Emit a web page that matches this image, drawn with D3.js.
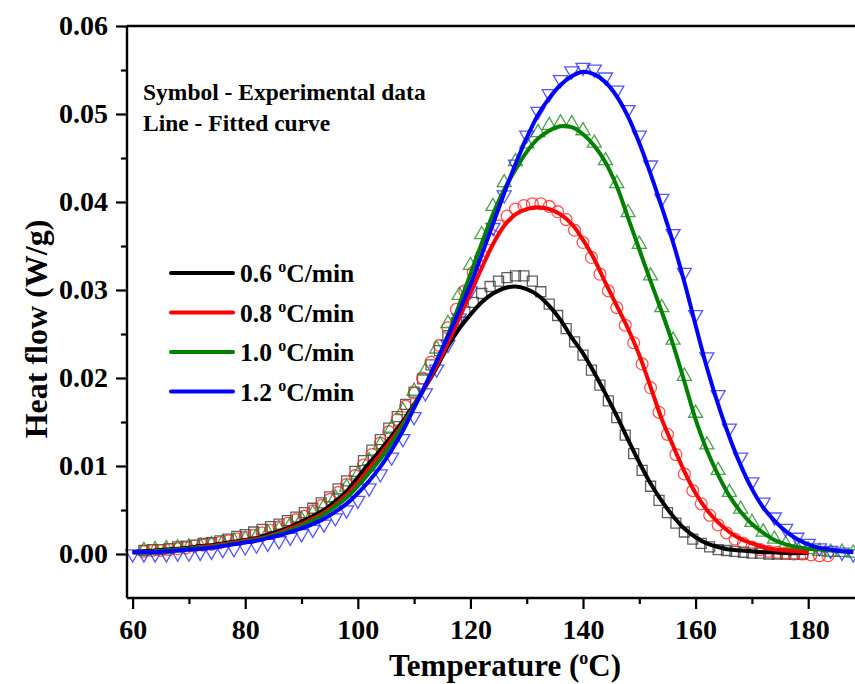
<!DOCTYPE html>
<html>
<head>
<meta charset="utf-8">
<script src="https://cdn.jsdelivr.net/npm/d3@7"></script>
<style>
  body { margin: 0; background: #fff; }
  svg { display: block; font-family: "Liberation Serif", "Times New Roman", serif; font-weight: bold; }
</style>
</head>
<body>
<div id="chart"></div>
<script>
// temperature grid (°C) for the fitted curves and the 1.0 / 1.2 points
const temps = [60, 62, 64, 66, 68, 70, 72, 74, 76, 78, 80, 82, 84, 86, 88, 90, 92, 94, 96, 98,
  100, 102, 104, 106, 108, 110, 112, 114, 116, 118, 120, 122, 124, 126, 128, 130, 132, 134, 136, 138,
  140, 142, 144, 146, 148, 150, 152, 154, 156, 158, 160, 162, 164, 166, 168, 170, 172, 174, 176, 178,
  180, 182, 184, 186, 188];

// fitted curves (W/g)
const fit06 = [.0002, .0003, .0004, .0005, .0006, .0007, .0009, .0010, .0012, .0014,
  .0016, .0018, .0022, .0026, .0031, .0037, .0043, .0050, .0060, .0071,
  .0087, .0103, .0118, .0134, .0151, .0170, .0190, .0212, .0236, .0256,
  .0272, .0286, .0296, .0302, .0304, .0301, .0294, .0282, .0266, .0246,
  .0228, .0206, .0182, .0157, .0130, .0104, .0080, .0060, .0043, .0029,
  .0019, .0012, .0008, .0005, .0004, .0003, .0002, .0002, .0001, .0001,
  .0001, null, null, null, null];
const fit08 = [.0002, .0002, .0003, .0004, .0005, .0006, .0008, .0009, .0011, .0013,
  .0015, .0017, .0020, .0024, .0029, .0034, .0040, .0047, .0056, .0067,
  .0081, .0097, .0113, .0130, .0148, .0168, .0190, .0214, .0240, .0268,
  .0296, .0325, .0352, .0373, .0386, .0392, .0394, .0392, .0386, .0375,
  .0357, .0335, .0308, .0282, .0256, .0226, .0190, .0153, .0123, .0094,
  .0069, .0050, .0036, .0025, .0017, .0012, .0008, .0005, .0004, .0003,
  .0002, null, null, null, null];
const fit10 = [.0002, .0002, .0003, .0004, .0005, .0006, .0007, .0008, .0010, .0012,
  .0014, .0016, .0019, .0023, .0027, .0032, .0038, .0045, .0054, .0064,
  .0077, .0092, .0108, .0126, .0146, .0168, .0192, .0219, .0249, .0283,
  .0318, .0353, .0386, .0414, .0437, .0457, .0472, .0481, .0486, .0485,
  .0477, .0464, .0445, .0418, .0382, .0346, .0310, .0275, .0238, .0196,
  .0153, .0118, .0090, .0066, .0048, .0034, .0024, .0016, .0011, .0008,
  .0006, .0005, .0004, .0003, .0003];
const fit12 = [.0002, .0002, .0002, .0003, .0004, .0005, .0006, .0007, .0009, .0011,
  .0013, .0015, .0018, .0021, .0025, .0029, .0034, .0040, .0048, .0057,
  .0069, .0083, .0099, .0118, .0140, .0166, .0192, .0219, .0247, .0276,
  .0306, .0340, .0375, .0410, .0443, .0473, .0499, .0518, .0533, .0543,
  .0548, .0545, .0536, .0520, .0497, .0467, .0432, .0394, .0354, .0309,
  .0260, .0212, .0170, .0133, .0101, .0074, .0053, .0038, .0026, .0017,
  .0011, .0007, .0005, .0003, .0002];

// experimental points, 0.6 and 0.8 °C/min: [T, W/g]
const exp06 = [[62, .0004], [63.5, .0005], [65, .0005], [66.5, .0006], [68, .0008], [69.5, .0009],
  [71, .0010], [72.5, .0012], [74, .0013], [75.5, .0015], [77, .0017], [78.5, .0020], [80, .0022],
  [81.5, .0025], [83, .0028], [84.5, .0031], [86, .0034], [87.5, .0038], [89, .0042], [90.5, .0047],
  [92, .0052], [93.5, .0058], [95, .0065], [96.5, .0074], [98, .0083], [99.5, .0094], [101, .0106],
  [102.5, .0118], [104, .0130], [105.5, .0143], [107, .0156], [108.5, .0170], [110, .0184],
  [111.5, .0199], [113, .0215], [114.5, .0231], [116, .0248], [117.5, .0263], [119, .0275],
  [120.5, .0286], [122, .0296], [123.5, .0304], [125, .0310], [126.5, .0314], [128, .0316],
  [129.5, .0316], [131, .0310], [132.5, .0298], [134, .0284], [135.5, .0271], [137, .0256],
  [138.5, .0241], [140, .0226], [141.5, .0209], [143, .0192], [144.5, .0174], [146, .0155],
  [147.5, .0135], [149, .0114], [150.5, .0095], [152, .0077], [153.5, .0061], [155, .0047],
  [156.5, .0035], [158, .0025], [159.5, .0017], [161, .0012], [162.5, .0008], [164, .0005],
  [165.5, .0004], [167, .0003], [168.5, .0002], [170, .0001], [171.5, .0001], [173, 0],
  [174.5, 0], [176, 0], [177.5, 0], [179, 0]];
const exp08 = [[62, .0003], [63.5, .0004], [65, .0004], [66.5, .0005], [68, .0006], [69.5, .0007],
  [71, .0009], [72.5, .0010], [74, .0011], [75.5, .0013], [77, .0015], [78.5, .0017], [80, .0019],
  [81.5, .0021], [83, .0024], [84.5, .0027], [86, .0031], [87.5, .0035], [89, .0039], [90.5, .0043],
  [92, .0049], [93.5, .0055], [95, .0062], [96.5, .0070], [98, .0079], [99.5, .0089], [101, .0101],
  [102.5, .0113], [104, .0126], [105.5, .0139], [107, .0153], [108.5, .0168], [110, .0183],
  [111.5, .0200], [113, .0218], [114.5, .0237], [116, .0257], [117.5, .0278], [119, .0299],
  [120.5, .0320], [122, .0340], [123.5, .0358], [125, .0373], [126.5, .0384], [128, .0392],
  [129.5, .0396], [131, .0398], [132.5, .0398], [134, .0395], [135.5, .0389], [137, .0380],
  [138.5, .0368], [140, .0354], [141.5, .0337], [143, .0318], [144.5, .0299], [146, .0280],
  [147.5, .0260], [149, .0240], [150.5, .0216], [152, .0189], [153.5, .0161], [155, .0136],
  [156.5, .0113], [158, .0091], [159.5, .0072], [161, .0057], [162.5, .0044], [164, .0033],
  [165.5, .0024], [167, .0017], [168.5, .0012], [170, .0008], [171.5, .0005], [173, .0003],
  [174.5, .0002], [176, .0001], [177.5, 0], [179, 0], [180.5, -.0001], [182, -.0002], [183.5, -.0002]];

// experimental points, 1.0 and 1.2 °C/min, on the temps grid
const exp10 = [null, .0004, .0005, .0006, .0007, .0008, .0009, .0011, .0013, .0015,
  .0017, .0020, .0024, .0028, .0033, .0039, .0046, .0054, .0064, .0076,
  .0090, .0106, .0124, .0143, .0163, .0185, .0208, .0233, .0262, .0294,
  .0328, .0363, .0395, .0422, .0446, .0466, .0479, .0487, .0490, .0489,
  .0481, .0467, .0447, .0421, .0388, .0352, .0316, .0280, .0243, .0202,
  .0160, .0124, .0095, .0070, .0051, .0036, .0025, .0017, .0011, .0007,
  .0005, .0003, .0002, .0002, .0001];
const exp12 = [0, 0, 0, 0, .0001, .0001, .0002, .0003, .0005, .0006,
  .0008, .0010, .0012, .0015, .0019, .0023, .0028, .0034, .0041, .0050,
  .0061, .0075, .0091, .0110, .0131, .0156, .0183, .0210, .0238, .0268,
  .0299, .0334, .0371, .0408, .0443, .0476, .0503, .0523, .0539, .0549,
  .0553, .0551, .0542, .0527, .0505, .0476, .0442, .0404, .0364, .0320,
  .0272, .0224, .0181, .0143, .0110, .0082, .0059, .0042, .0029, .0019,
  .0012, .0007, .0004, .0002, 0];

const rates = ["0.6", "0.8", "1.0", "1.2"];
const xTicks = [60, 80, 100, 120, 140, 160, 180];
const yTicks = [0, 0.01, 0.02, 0.03, 0.04, 0.05, 0.06];

const onGrid = arr => temps.map((t, i) => [t, arr[i]]);

const series = [
  { rate: rates[0], fit: fit06, exp: exp06, color: "#000000", mark: "#3a3a3a", symbol: d3.symbolSquare, size: 100, rot: 0 },
  { rate: rates[1], fit: fit08, exp: exp08, color: "#ff0000", mark: "#ff2a2a", symbol: d3.symbolCircle, size: 110, rot: 0 },
  { rate: rates[2], fit: fit10, exp: onGrid(exp10), color: "#008000", mark: "#1f8a1f", symbol: d3.symbolTriangle, size: 85, rot: 0 },
  { rate: rates[3], fit: fit12, exp: onGrid(exp12), color: "#0000ff", mark: "#2a2aff", symbol: d3.symbolTriangle, size: 85, rot: 180 }
];

const width = 855, height = 684;
const svg = d3.select("#chart").append("svg")
  .attr("width", width)
  .attr("height", height);

const x = d3.scaleLinear().domain([59, 190]).range([127, 864.5]);
const y = d3.scaleLinear().domain([-0.005, 0.06]).range([598, 26]);

// markers first, lines on top
series.forEach(s => {
  const pts = s.exp.filter(d => d[1] != null);
  svg.append("g")
    .selectAll("path")
    .data(pts)
    .enter().append("path")
    .attr("d", d3.symbol().type(s.symbol).size(s.size))
    .attr("transform", d => `translate(${x(d[0])},${y(d[1])}) rotate(${s.rot})`)
    .attr("fill", "none")
    .attr("stroke", s.mark)
    .attr("stroke-opacity", 0.8)
    .attr("stroke-width", 1.3);
});

const line = d3.line()
  .defined(d => d[1] != null)
  .x(d => x(d[0]))
  .y(d => y(d[1]))
  .curve(d3.curveCatmullRom);

series.forEach(s => {
  svg.append("path")
    .datum(onGrid(s.fit))
    .attr("fill", "none")
    .attr("stroke", s.color)
    .attr("stroke-width", 4)
    .attr("stroke-linejoin", "round")
    .attr("d", line);
});

// axes
svg.append("g")
  .attr("transform", "translate(127,0)")
  .call(d3.axisLeft(y).tickValues(yTicks).tickFormat(d3.format(".2f")).tickSize(11).tickSizeOuter(0).tickPadding(8));
svg.append("g")
  .attr("transform", "translate(127,0)")
  .call(d3.axisLeft(y).tickValues([0.005, 0.015, 0.025, 0.035, 0.045, 0.055]).tickFormat("").tickSize(6).tickSizeOuter(0));

svg.append("g")
  .attr("transform", "translate(0,598)")
  .call(d3.axisBottom(x).tickValues(xTicks).tickSize(11).tickSizeOuter(0).tickPadding(10));
svg.append("g")
  .attr("transform", "translate(0,598)")
  .call(d3.axisBottom(x).tickValues([70, 90, 110, 130, 150, 170, 190]).tickFormat("").tickSize(6).tickSizeOuter(0));

svg.selectAll(".domain").remove();
svg.selectAll(".tick line").attr("stroke", "#000").attr("stroke-width", 2.2);
svg.selectAll(".tick text")
  .attr("fill", "#000")
  .style("font-family", "\"Liberation Serif\", \"Times New Roman\", serif")
  .style("font-weight", "bold")
  .style("font-size", "28px");

// frame lines
svg.append("path")
  .attr("d", `M${x(59)},${y(0.06)}H${x(190)}M${x(59)},${y(0.06)}V${y(-0.005)}M${x(59)},${y(-0.005)}H${x(190)}`)
  .attr("fill", "none")
  .attr("stroke", "#000")
  .attr("stroke-width", 2.4);

// axis titles
svg.append("text")
  .attr("transform", "translate(47,329) rotate(-90)")
  .attr("text-anchor", "middle")
  .style("font-size", "32px")
  .text("Heat flow (W/g)");

const xt = svg.append("text")
  .attr("x", 505)
  .attr("y", 676)
  .attr("text-anchor", "middle")
  .style("font-size", "31px");
xt.append("tspan").text("Temperature (");
xt.append("tspan").attr("dy", -12).style("font-size", "18px").text("o");
xt.append("tspan").attr("dy", 12).text("C)");

// annotation
svg.append("text").attr("x", 143).attr("y", 100).style("font-size", "23.5px").text("Symbol - Experimental data");
svg.append("text").attr("x", 143).attr("y", 131).style("font-size", "23.5px").text("Line - Fitted curve");

// legend
const legend = svg.selectAll(".legend")
  .data(series)
  .enter().append("g")
  .attr("class", "legend")
  .attr("transform", (d, i) => `translate(0,${273 + i * 39.5})`);

legend.append("line")
  .attr("x1", 171).attr("x2", 233)
  .attr("stroke", d => d.color)
  .attr("stroke-width", 4)
  .attr("stroke-linecap", "round");

const lt = legend.append("text")
  .attr("x", 240)
  .attr("y", 9)
  .style("font-size", "25.5px");
lt.append("tspan").text(d => d.rate + " ");
lt.append("tspan").attr("dy", -10).style("font-size", "16px").text("o");
lt.append("tspan").attr("dy", 10).text("C/min");
</script>
</body>
</html>
